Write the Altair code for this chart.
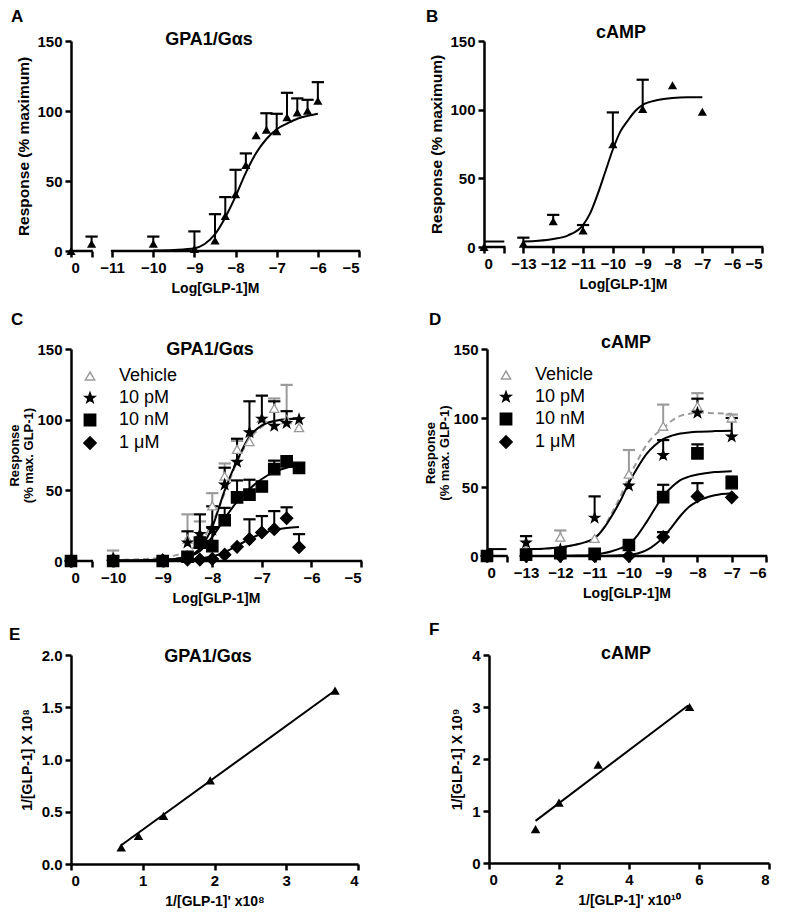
import altair as alt
import pandas as pd

FONT = "Liberation Sans"
GREY = "#9b9b9b"
STAR = ("M0,-1L0.236,-0.325L0.951,-0.309L0.382,0.124L0.588,0.809L0,0.4"
        "L-0.588,0.809L-0.382,0.124L-0.951,-0.309L-0.236,-0.325Z")

LETTERS = ["A", "B", "C", "D", "E", "F"]
TITLES = ["GPA1/Gαs", "cAMP", "GPA1/Gαs", "cAMP", "GPA1/Gαs", "cAMP"]
X_TITLE_LOG = "Log[GLP-1]M"
Y_TITLE_AB = "Response (% maximum)"
Y_TITLE_CD = ["Response", "(% max. GLP-1)"]

SERIES = ["Vehicle", "10 pM", "10 nM", "1 μM"]
SHAPES = ["triangle-up", STAR, "square", "diamond"]
FILLS = ["white", "black", "black", "black"]
STROKES = [GREY, "black", "black", "black"]
SIZES = [85, 150, 55, 40]

# ---------------- Panel A ----------------
A_ZERO, A_BREAK = -12.0, -11.5
A_TICKS = [-12, -11.5, -11, -10, -9, -8, -7, -6, -5]
A_LABELS = ["0", "", "−11", "−10", "−9", "−8", "−7", "−6", "−5"]
A_X = [A_ZERO, -11.5, -10, -9, -8.5, -8.25, -8, -7.75, -7.5, -7.25, -7, -6.75, -6.5, -6.25, -6]
A_Y = [0, 5.2, 5.2, 1.5, 7.5, 25, 40.5, 61.5, 82.6, 86.6, 85.5, 95.5, 99, 100.2, 107.3]
A_ERR = [None, 10.3, 10.3, 14, 26.3, 38.5, 58, 69.7, None, 98.4, 98, 113, 109, 108, 120.6]
A_CURVE_X = [-10, -9.5, -9, -8.75, -8.5, -8.25, -8, -7.75, -7.5, -7.25, -7, -6.75, -6.5, -6.25, -6]
A_CURVE_Y = [0.3, 0.8, 2, 5, 12, 24, 39, 56, 70, 80, 87, 91, 94.5, 96.5, 98]

# ---------------- Panel B ----------------
B_ZERO, B_BREAK = -14.32, -13.64
B_TICKS = [B_ZERO, B_BREAK, -13, -12, -11, -10, -9, -8, -7, -6, -5]
B_LABELS = ["0", "", "−13", "−12", "−11", "−10", "−9", "−8", "−7", "−6", "−5"]
B_X = [B_ZERO, -13, -12, -11, -10, -9, -8, -7]
B_Y = [0, 2.4, 18.8, 12, 74.8, 100.5, 117.7, 98.4]
B_ERR = [None, 6.8, 23.4, 16, 98, 121.8, None, None]
B_CURVE_X = [-13, -12.5, -12, -11.5, -11, -10.75, -10.5, -10.25, -10, -9.75, -9.5, -9.25, -9, -8.5, -8, -7.5, -7]
B_CURVE_Y = [4, 4.5, 5.8, 8.5, 16, 25, 39, 55, 71, 84, 92, 99, 103.5, 107, 108.5, 109, 109]
B_BASE_X = [B_ZERO, B_BREAK]
B_BASE_Y = [4, 4]

# ---------------- Panel C ----------------
C_ZERO, C_BREAK = -10.85, -10.43
C_TICKS = [C_ZERO, C_BREAK, -10, -9, -8, -7, -6, -5]
C_LABELS = ["0", "", "−10", "−9", "−8", "−7", "−6", "−5"]
C_X = [C_ZERO, -10, -9, -8.5, -8.25, -8, -7.75, -7.5, -7.25, -7, -6.75, -6.5, -6.25]
C_VEH_Y = [0, 2.8, 0.5, 15.5, 19, 39, 60, 79, 84.5, 101, 108, 100, 94.4]
C_VEH_E = [None, 7.4, None, 33, 28, 48, 69, 85, None, None, 115, 124.6, None]
C_PM_Y = [0, 1.5, 0.5, 13, 19, 22, 54, 70, 91, 100.5, 95.5, 97.5, 100.2]
C_PM_E = [None, None, None, 21, 33, 38.7, 66, 86.5, 113, 117, 113, 106, None]
C_NM_Y = [0, 0, 0, 3, 13, 10.5, 28.8, 45, 47, 52.7, 65, 70.5, 65.9]
C_NM_E = [None, None, None, None, None, 24, 37.6, 57, 57.5, None, 71, None, None]
C_UM_Y = [0, 0.5, 0.5, 1, 1, 1.5, 4.5, 10, 15.5, 20.2, 22.5, 30.2, 9.7]
C_UM_E = [None, None, None, None, None, None, None, None, 29.5, 31.8, 35.3, 38, 19]
C_CURVE_X = [-10, -9.5, -9, -8.75, -8.5, -8.25, -8, -7.75, -7.5, -7.25, -7, -6.75, -6.5, -6.25]
C_VEH_C = [0.8, 1.2, 2.5, 4, 7, 13, 27, 48, 70, 86, 95, 99, 100.5, 101]
C_PM_C = [0.3, 0.4, 0.8, 1.5, 3, 9, 24, 50, 71, 88, 96, 99, 100.3, 100.6]
C_NM_C = [0.3, 0.4, 1, 1.5, 3, 7, 17, 30, 42, 51, 58, 63, 66, 67.5]
C_UM_C = [0.2, 0.2, 0.4, 0.6, 1, 1.8, 3.2, 6.3, 10.8, 15.5, 19.5, 22, 23.3, 24]

# ---------------- Panel D ----------------
D_ZERO, D_BREAK = -14.14, -13.57
D_TICKS = [D_ZERO, D_BREAK, -13, -12, -11, -10, -9, -8, -7, -6]
D_LABELS = ["0", "", "−13", "−12", "−11", "−10", "−9", "−8", "−7", "−6"]
D_X = [D_ZERO, -13, -12, -11, -10, -9, -8, -7]
D_VEH_Y = [0, 4.8, 13.7, 12.7, 59.3, 94, 108.5, 100]
D_VEH_E = [None, None, 18.5, None, 76.8, 109.7, 118, 102.5]
D_PM_Y = [0, 9.6, 4.8, 27.6, 50.9, 73, 103.7, 86.4]
D_PM_E = [None, 14.4, None, 43.2, None, 84, 114, 100]
D_NM_Y = [0, 1, 2, 1.5, 8, 42.7, 74.4, 52.8]
D_NM_E = [None, None, None, None, None, 51.6, 80.9, 57.6]
D_UM_Y = [0, 0, 0, 0, 0, 13.7, 43.2, 42.5]
D_UM_E = [None, None, None, None, None, 17.3, 52.8, None]
D_CURVE_X = [-13, -12.5, -12, -11.5, -11, -10.75, -10.5, -10.25, -10, -9.75, -9.5, -9.25,
             -9, -8.75, -8.5, -8.25, -8, -7.5, -7]
D_VEH_C = [5, 5.3, 6.3, 8.5, 13, 20, 31, 43, 57, 69, 80, 87.5, 92.5, 98, 101.5, 103, 104, 103.5, 103]
D_PM_C = [5, 5.3, 6.3, 8.5, 13, 19.5, 29, 40, 53, 64, 73.5, 80, 84.7, 87.2, 88.8, 89.5, 90, 90.5, 90.7]
D_NM_C = [0, 0, 0, 0.3, 1, 2, 3.5, 5.5, 8.5, 15, 24, 34, 43.5, 50, 55, 57.5, 59, 60.8, 61.5]
D_UM_C = [0, 0, 0, 0, 0, 0, 0.2, 0.5, 0.8, 1.8, 4, 8, 13.5, 21, 29, 35.5, 39.5, 44, 45.5]
D_BASE_X = [D_ZERO, D_BREAK]
D_BASE_Y = [5, 5]

# ---------------- Panel E ----------------
E_X = [0.70, 0.94, 1.29, 1.94, 3.68]
E_Y = [0.16, 0.27, 0.46, 0.80, 1.66]
E_LINE_X = [0.70, 3.68]
E_LINE_Y = [0.18, 1.66]

# ---------------- Panel F ----------------
F_X = [1.33, 2.0, 3.12, 5.73]
F_Y = [0.65, 1.16, 1.89, 3.0]
F_LINE_X = [1.33, 5.69]
F_LINE_Y = [0.81, 3.03]


def log_axis(ticks, labels):
    expr = "''"
    for t, l in reversed(list(zip(ticks, labels))):
        expr = f"abs(datum.value - ({t})) < 0.000001 ? '{l}' : ({expr})"
    return alt.Axis(values=ticks, labelExpr=expr, domain=False, title=X_TITLE_LOG,
                    labelOverlap=False)


def text_layer(txt, dx, dy, size, align="left"):
    return alt.Chart(pd.DataFrame({"t": [txt]})).mark_text(
        font=FONT, fontSize=size, fontWeight="bold", align=align,
        baseline="alphabetic", color="black"
    ).encode(x=alt.value(dx), y=alt.value(dy), text="t:N")


def points_frame(xs, groups):
    rows = []
    for name, ys, errs in groups:
        for x, y, e in zip(xs, ys, errs):
            rows.append({"x": x, "y": y, "err": e, "series": name})
    return pd.DataFrame(rows)


def curves_frame(groups):
    rows = []
    for name, seg, xs, ys in groups:
        for x, y in zip(xs, ys):
            rows.append({"x": x, "y": y, "series": name, "seg": seg})
    return pd.DataFrame(rows)


def dose_panel(idx, pts, curves, xdom, ticks, labels, main_start, ytitle, w, h,
               title_pos, letter_pos, multi, legend_pos=None):
    xs = alt.Scale(domain=xdom, nice=False, zero=False)
    ys = alt.Scale(domain=[0, 150], nice=False)
    xa = log_axis(ticks, labels)
    if multi:
        ya = alt.Axis(values=[0, 50, 100, 150], title=ytitle, titleFontSize=13,
                      titleLineHeight=14, titlePadding=1)
    else:
        ya = alt.Axis(values=[0, 50, 100, 150], title=ytitle)
    X = alt.X("x:Q", scale=xs, axis=xa)
    Y = alt.Y("y:Q", scale=ys, axis=ya)
    YE = alt.Y("err:Q", scale=ys, axis=ya)

    segs = pd.DataFrame({"x": [xdom[0], main_start], "x2": [ticks[1], xdom[1]]})
    layers = [
        alt.Chart(segs).mark_rule(color="black", strokeWidth=2.5, strokeCap="square").encode(
            x=X, x2="x2:Q", y=alt.value(h))
    ]
    cv = alt.Chart(curves)
    layers.append(cv.transform_filter("datum.series == 'Vehicle'").mark_line(
        color=GREY, strokeWidth=2, strokeDash=[6, 4], interpolate="monotone"
    ).encode(x=X, y=Y, detail="seg:N"))
    layers.append(cv.transform_filter("datum.series != 'Vehicle'").mark_line(
        color="black", strokeWidth=2, interpolate="monotone"
    ).encode(x=X, y=Y, detail=["series:N", "seg:N"]))

    ev = alt.Chart(pts).transform_filter("isValid(datum.err)")
    for color, cond in [(GREY, "datum.series == 'Vehicle'"), ("black", "datum.series != 'Vehicle'")]:
        sub = ev.transform_filter(cond)
        layers.append(sub.mark_rule(color=color, strokeWidth=2).encode(x=X, y=Y, y2="err:Q"))
        layers.append(sub.mark_point(shape="stroke", color=color, strokeWidth=2.2, size=150,
                                     opacity=1).encode(x=X, y=YE))

    if multi:
        leg = alt.Legend(title=None, orient="none", legendX=legend_pos[0], legendY=legend_pos[1],
                         labelFont=FONT, labelFontSize=18, labelFontWeight="normal",
                         labelColor="black", rowPadding=4, labelOffset=20,
                         symbolStrokeWidth=1.5, padding=0)
        layers.append(alt.Chart(pts).mark_point(filled=True, opacity=1, strokeWidth=1.3).encode(
            x=X, y=Y,
            shape=alt.Shape("series:N", scale=alt.Scale(domain=SERIES, range=SHAPES), legend=leg),
            fill=alt.Fill("series:N", scale=alt.Scale(domain=SERIES, range=FILLS), legend=leg),
            stroke=alt.Stroke("series:N", scale=alt.Scale(domain=SERIES, range=STROKES), legend=leg),
            size=alt.Size("series:N", scale=alt.Scale(domain=SERIES, range=SIZES), legend=leg),
        ))
    else:
        layers.append(alt.Chart(pts).mark_point(filled=True, shape="triangle-up", size=85,
                                                color="black", opacity=1).encode(x=X, y=Y))

    layers.append(text_layer(LETTERS[idx], letter_pos[0], letter_pos[1], 17))
    layers.append(text_layer(TITLES[idx], title_pos[0], title_pos[1], 18, align="center"))
    return alt.layer(*layers).properties(width=w, height=h)


def scatter_panel(idx, xs_, ys_, lx, ly, xdom, xticks, ydom, yticks, yfmt, xtitle, ytitle,
                  w, h, title_pos, letter_pos):
    xs = alt.Scale(domain=xdom, nice=False)
    ys = alt.Scale(domain=ydom, nice=False)
    X = alt.X("x:Q", scale=xs, axis=alt.Axis(values=xticks, format="d", title=xtitle))
    Y = alt.Y("y:Q", scale=ys, axis=alt.Axis(values=yticks, format=yfmt, title=ytitle,
                                             titleFontSize=14, titlePadding=7))
    line = alt.Chart(pd.DataFrame({"x": lx, "y": ly})).mark_line(color="black", strokeWidth=2).encode(x=X, y=Y)
    pts = alt.Chart(pd.DataFrame({"x": xs_, "y": ys_})).mark_point(
        filled=True, shape="triangle-up", size=90, color="black", opacity=1).encode(x=X, y=Y)
    return alt.layer(
        line, pts,
        text_layer(LETTERS[idx], letter_pos[0], letter_pos[1], 17),
        text_layer(TITLES[idx], title_pos[0], title_pos[1], 18, align="center"),
    ).properties(width=w, height=h)


# ---- build panels
A_pts = points_frame(A_X, [("GLP-1", A_Y, A_ERR)])
A_cur = curves_frame([("GLP-1", 0, A_CURVE_X, A_CURVE_Y)])
panelA = dose_panel(0, A_pts, A_cur, [A_ZERO, -5], A_TICKS, A_LABELS, -11, Y_TITLE_AB,
                    288, 210, (138, 4), (-60, -19), False)

B_pts = points_frame(B_X, [("GLP-1", B_Y, B_ERR)])
B_cur = curves_frame([("GLP-1", 0, B_CURVE_X, B_CURVE_Y), ("GLP-1", 1, B_BASE_X, B_BASE_Y)])
panelB = dose_panel(1, B_pts, B_cur, [B_ZERO, -5], B_TICKS, B_LABELS, -13, Y_TITLE_AB,
                    278, 206, (137, -3), (-58, -19), False)

C_pts = points_frame(C_X, [("Vehicle", C_VEH_Y, C_VEH_E), ("10 pM", C_PM_Y, C_PM_E),
                           ("10 nM", C_NM_Y, C_NM_E), ("1 μM", C_UM_Y, C_UM_E)])
C_cur = curves_frame([("Vehicle", 0, C_CURVE_X, C_VEH_C), ("10 pM", 0, C_CURVE_X, C_PM_C),
                      ("10 nM", 0, C_CURVE_X, C_NM_C), ("1 μM", 0, C_CURVE_X, C_UM_C)])
panelC = dose_panel(2, C_pts, C_cur, [C_ZERO, -5], C_TICKS, C_LABELS, -10, Y_TITLE_CD,
                    290, 212, (139, 6), (-60, -24), True, legend_pos=(10, 18))

D_pts = points_frame(D_X, [("Vehicle", D_VEH_Y, D_VEH_E), ("10 pM", D_PM_Y, D_PM_E),
                           ("10 nM", D_NM_Y, D_NM_E), ("1 μM", D_UM_Y, D_UM_E)])
D_cur = curves_frame([("Vehicle", 0, D_CURVE_X, D_VEH_C), ("10 pM", 0, D_CURVE_X, D_PM_C),
                      ("10 nM", 0, D_CURVE_X, D_NM_C), ("1 μM", 0, D_CURVE_X, D_UM_C),
                      ("Vehicle", 1, D_BASE_X, D_BASE_Y), ("10 pM", 1, D_BASE_X, D_BASE_Y)])
panelD = dose_panel(3, D_pts, D_cur, [D_ZERO, -6], D_TICKS, D_LABELS, -13, Y_TITLE_CD,
                    279, 207, (139, -1), (-58, -24), True, legend_pos=(10, 17))

panelE = scatter_panel(4, E_X, E_Y, E_LINE_X, E_LINE_Y, [0, 4], [0, 1, 2, 3, 4], [0, 2],
                       [0, 0.5, 1, 1.5, 2], ".1f", "1/[GLP-1]' x10⁸", "1/[GLP-1] X 10⁸",
                       287, 209, (137, 7), (-62, -15))
panelF = scatter_panel(5, F_X, F_Y, F_LINE_X, F_LINE_Y, [0, 8], [0, 2, 4, 6, 8], [0, 4],
                       [0, 1, 2, 3, 4], "d", "1/[GLP-1]' x10¹⁰", "1/[GLP-1] X 10⁹",
                       280, 208, (137, 4), (-60, -20))

row1 = alt.hconcat(panelA, panelB, spacing=65)
row2 = alt.hconcat(panelC, panelD, spacing=61).resolve_scale(
    shape="independent", fill="independent", stroke="independent", size="independent")
row3 = alt.hconcat(panelE, panelF, spacing=69)

chart = alt.vconcat(row1, row2, row3, spacing=16).resolve_scale(
    shape="independent", fill="independent", stroke="independent", size="independent"
).properties(padding=0).configure(font=FONT).configure_view(stroke=None).configure_axis(
    grid=False, domainColor="black", domainWidth=2.5, tickColor="black", tickWidth=2.5,
    tickSize=6, labelFont=FONT, labelFontSize=15, labelFontWeight="bold", labelColor="black",
    titleFont=FONT, titleFontWeight="bold", titleColor="black",
).configure_axisX(labelPadding=3, titlePadding=6, titleFontSize=14).configure_axisY(
    labelPadding=3, titlePadding=5, titleFontSize=15.5)

chart.save("out.html", embed_options={"renderer": "svg", "actions": False})
